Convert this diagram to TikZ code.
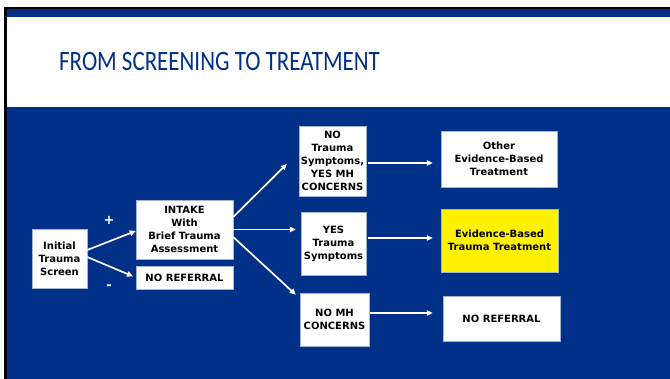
\documentclass[tikz,border=0pt]{standalone}
\usepackage{fontspec}
\usepackage{graphicx}
\usepackage{xcolor}
\usepackage{tikz}
\usetikzlibrary{arrows.meta,positioning,calc}
\newfontfamily\boxfont{DejaVu Sans}
\newfontfamily\titlefont{Carlito}
\definecolor{slideblue}{RGB}{0,48,135}
\definecolor{edgeblue}{RGB}{165,180,210}
\tikzset{
  flowarr/.style={-{Triangle[length=6pt,width=5.5pt]}, line width=1.7pt, white},
  fbox/.style={rectangle, draw=edgeblue, line width=0.5pt, fill=white, inner sep=1pt,
    align=center, font=\boxfont\bfseries\fontsize{10}{13}\selectfont},
  ybox/.style={fbox, fill=yellow},
  sign/.style={text=white, font=\boxfont\bfseries\fontsize{13}{13}\selectfont},
}
\begin{document}
\begin{tikzpicture}[x=1pt, y=-1pt]
\useasboundingbox (0,0) rectangle (670,379);
% Slide frame
\fill[white] (0,0) rectangle (670,379);
\fill[black] (4,7) rectangle (670,379);
\fill[slideblue] (6.7,9.3) rectangle (670,379);
\fill[white] (6.7,17) rectangle (670,107);
% Title
\node[anchor=west, text=slideblue, inner sep=0pt] (title) at (59,62)
  {\scalebox{0.82}[1]{\titlefont\fontsize{28}{30}\selectfont FROM SCREENING TO TREATMENT}};
% Column 1
\node[fbox, minimum width=55pt, minimum height=59pt] (init) at (59.5,258.5) {Initial\\Trauma\\Screen};
% Column 2
\node[fbox, minimum width=97pt, minimum height=59pt] (intake) at (184.5,229.5) {INTAKE\\With\\Brief Trauma\\Assessment};
\node[fbox, minimum width=97pt, minimum height=23pt] (noref1) at (184.5,277.5) {NO REFERRAL};
\node[sign] (plus) at (109,220) {+};
\node[sign] (minus) at (109,287) {-};
% Column 3
\node[fbox, minimum width=67pt, minimum height=70pt] (notrauma) at (332.5,161) {NO\\Trauma\\Symptoms,\\YES MH\\CONCERNS};
\node[fbox, minimum width=65pt, minimum height=63pt] (yestrauma) at (333.5,243.5) {YES\\Trauma\\Symptoms};
\node[fbox, minimum width=69pt, minimum height=53pt] (nomh) at (334.5,319.5) {NO MH\\CONCERNS};
% Column 4
\node[fbox, minimum width=116pt, minimum height=56pt] (other) at (499,159) {Other\\Evidence-Based\\Treatment};
\node[ybox, minimum width=117pt, minimum height=63pt] (ebtt) at (499.5,240.5) {Evidence-Based\\Trauma Treatment};
\node[fbox, minimum width=117pt, minimum height=45pt] (noref2) at (501.5,318.5) {NO REFERRAL};
% Arrows from screen
\draw[flowarr] ([yshift=8.5pt]init.east) -- ([yshift=-1.5pt]intake.west);
\draw[flowarr, shorten >=3pt] ([yshift=1.5pt]init.east) -- (noref1.west);
% Arrows from intake
\draw[flowarr] ([yshift=12.5pt]intake.east) -- ([xshift=-12pt,yshift=-3pt]notrauma.west);
\draw[flowarr, shorten >=5pt] (intake.east) -- (intake.east -| yestrauma.west);
\draw[flowarr] ([yshift=-7.5pt]intake.east) -- ([xshift=-4pt,yshift=-2pt]nomh.north west);
% Arrows to treatment
\draw[flowarr, shorten <=2pt, shorten >=8pt] ([yshift=-2pt]notrauma.east) -- ([yshift=-2pt]notrauma.east -| other.west);
\draw[flowarr, shorten <=2pt, shorten >=8pt] ([yshift=5.5pt]yestrauma.east) -- ([yshift=5.5pt]yestrauma.east -| ebtt.west);
\draw[flowarr, shorten <=1pt, shorten >=10pt] ([yshift=6.5pt]nomh.east) -- ([yshift=6.5pt]nomh.east -| noref2.west);
\end{tikzpicture}
\end{document}
